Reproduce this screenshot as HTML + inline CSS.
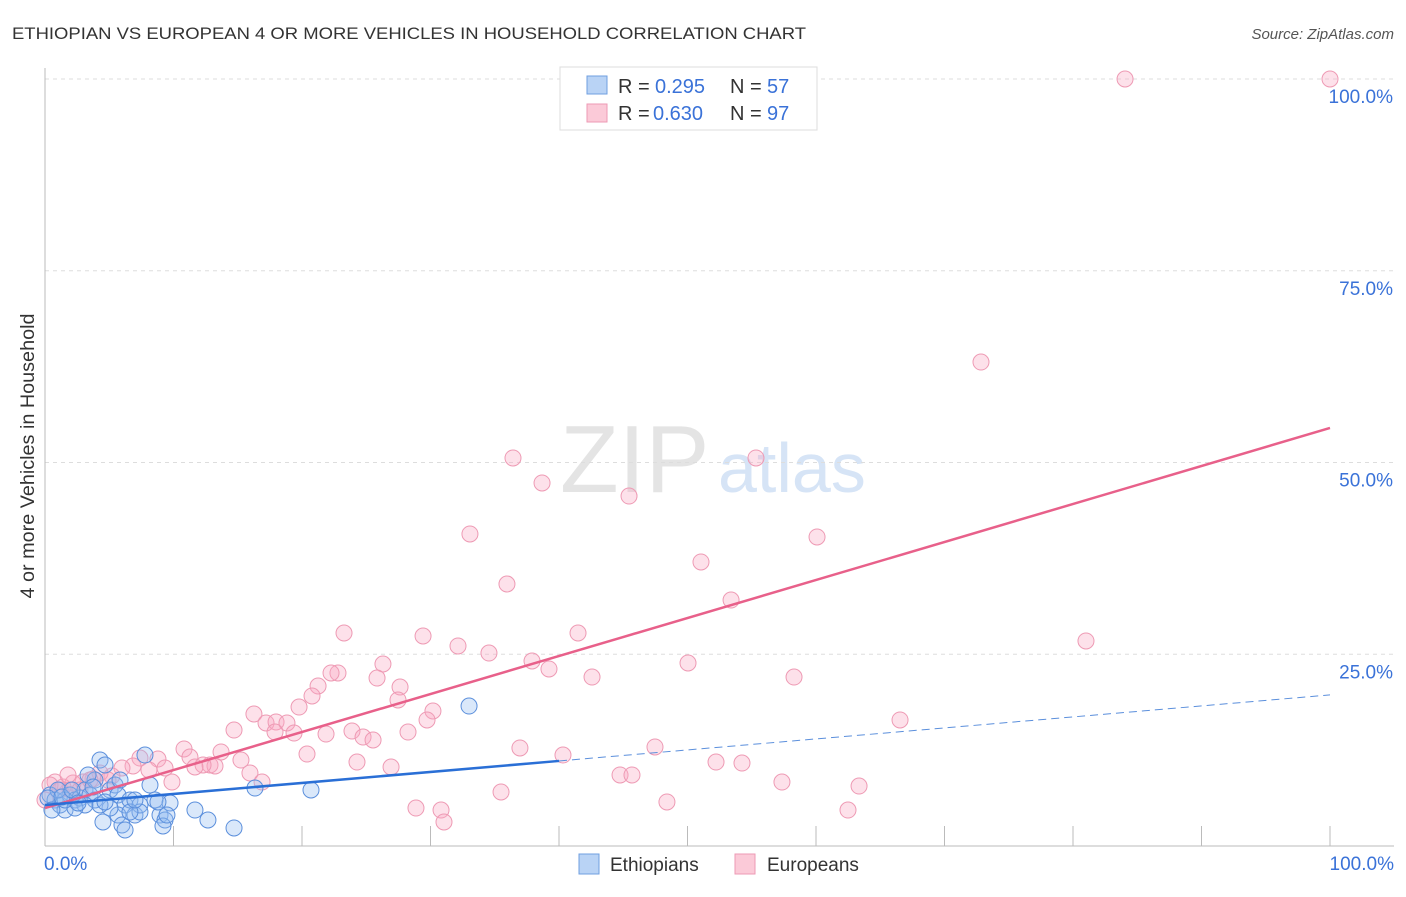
<!DOCTYPE html>
<html><head><meta charset="utf-8"><style>
body{margin:0;background:#fff;font-family:"Liberation Sans",sans-serif}
svg text{font-family:"Liberation Sans",sans-serif}
</style></head><body>
<svg width="1406" height="892" id="chart">
<text x="12" y="39" font-size="17" fill="#333" textLength="794" lengthAdjust="spacingAndGlyphs">ETHIOPIAN VS EUROPEAN 4 OR MORE VEHICLES IN HOUSEHOLD CORRELATION CHART</text>
<text x="1394" y="39" font-size="15" fill="#555" font-style="italic" text-anchor="end">Source: ZipAtlas.com</text>
<text x="560" y="492" font-size="96" fill="#e4e4e4" font-family="Liberation Serif">ZIP</text>
<text x="718" y="492" font-size="70" fill="#d6e4f6">atlas</text>
<text x="34" y="456" font-size="19" fill="#333" transform="rotate(-90 34 456)" text-anchor="middle" textLength="285" lengthAdjust="spacingAndGlyphs">4 or more Vehicles in Household</text>
<g id="grid"></g><g id="pts"></g><g id="lines"></g>
<g>
<rect x="560" y="67" width="257" height="63" fill="#fff" stroke="#ddd"/>
<rect x="587" y="76" width="20" height="18" fill="#b9d3f5" stroke="#6f9fe0"/>
<rect x="587" y="104" width="20" height="18" fill="#fbcad8" stroke="#ee9ab4"/>
<text x="618" y="93" font-size="20" fill="#333">R = <tspan fill="#3a72d8" x="655">0.295</tspan><tspan x="730">N = </tspan><tspan fill="#3a72d8" x="767">57</tspan></text>
<text x="618" y="120" font-size="20" fill="#333">R = <tspan fill="#3a72d8" x="653">0.630</tspan><tspan x="730">N = </tspan><tspan fill="#3a72d8" x="767">97</tspan></text>
</g>
<g>
<rect x="579" y="854" width="20" height="20" fill="#b9d3f5" stroke="#6f9fe0"/>
<text x="610" y="871" font-size="19" fill="#333">Ethiopians</text>
<rect x="735" y="854" width="20" height="20" fill="#fbcad8" stroke="#ee9ab4"/>
<text x="767" y="871" font-size="19" fill="#333">Europeans</text>
</g>
</svg>
<script>
const yTicks=[25,50,75,100];
const yTickLabels=["25.0%","50.0%","75.0%","100.0%"];
const xTickLabels=["0.0%","100.0%"];
const bluePx=[[50,795],[55,800],[60,805],[65,810],[70,795],[75,800],[80,798],[85,790],[90,795],[95,780],[100,760],[105,765],[110,790],[115,785],[118,795],[120,780],[125,805],[130,800],[135,815],[140,805],[145,755],[150,785],[155,800],[160,815],[165,820],[170,803],[103,822],[118,815],[122,825],[125,830],[140,812],[163,826],[195,810],[208,820],[234,828],[255,788],[311,790],[469,706],[110,808],[95,800],[85,805],[75,808],[65,800],[58,790],[48,798],[88,775],[93,787],[130,812],[135,800],[158,802],[167,815],[100,805],[105,802],[62,797],[72,790],[78,803],[52,810]];
const pinkPx=[[1125,79],[1330,79],[981,362],[513,458],[756,458],[542,483],[629,496],[470,534],[817,537],[701,562],[507,584],[731,600],[344,633],[578,633],[423,636],[458,646],[489,653],[532,661],[549,669],[383,664],[688,663],[338,673],[331,673],[592,677],[794,677],[377,678],[318,686],[400,687],[312,696],[398,700],[299,707],[433,711],[427,720],[254,714],[266,723],[276,722],[287,723],[275,732],[294,733],[234,730],[326,734],[352,731],[363,737],[373,740],[408,732],[900,720],[1086,641],[184,749],[221,752],[241,760],[190,757],[210,765],[215,766],[203,765],[520,748],[563,755],[655,747],[307,754],[140,758],[158,759],[133,766],[122,768],[112,776],[100,773],[93,779],[83,782],[73,783],[63,787],[55,782],[50,785],[60,790],[70,790],[80,790],[90,780],[165,768],[172,782],[195,767],[250,773],[262,782],[357,762],[391,767],[716,762],[742,763],[620,775],[632,775],[782,782],[859,786],[501,792],[667,802],[416,808],[441,810],[444,822],[848,810],[149,770],[108,780],[45,800],[68,775]];
const toX=p=>+((p-45)/12.85).toFixed(2), toY=p=>+((846-p)/7.67).toFixed(2);
const blueX=bluePx.map(p=>toX(p[0])), blueY=bluePx.map(p=>toY(p[1]));
const pinkX=pinkPx.map(p=>toX(p[0])), pinkY=pinkPx.map(p=>toY(p[1]));
const blueFit=[5.35,19.7], pinkFit=[4.95,54.5];
const X=v=>45+v*12.85, Y=v=>846-v*7.67;
const NS="http://www.w3.org/2000/svg";
function mk(t,a,parent){const e=document.createElementNS(NS,t);for(const k in a)e.setAttribute(k,a[k]);parent.appendChild(e);return e;}
const grid=document.getElementById('grid');
yTicks.forEach((t,i)=>{
 const l=mk('line',{x1:45,x2:1394,y1:Y(t),y2:Y(t),stroke:'#ddd','stroke-dasharray':'4,4'},grid);
 
 
 const tx=mk('text',{x:1393,y:Y(t)+24,'font-size':19,fill:'#3a72d8','text-anchor':'end'},grid);tx.textContent=yTickLabels[i];
 
 
});
const ax=mk('line',{x1:45,x2:45,y1:68,y2:846,stroke:'#bbb'},grid);


const bx=mk('line',{x1:45,x2:1394,y1:846,y2:846,stroke:'#bbb'},grid);


for(let i=1;i<=10;i++){const t=mk('line',{x1:X(i*10),x2:X(i*10),y1:826,y2:846,stroke:'#bbb'},grid);
 
 }
[[0,'start',44],[100,'end',1394]].forEach((d,i)=>{const t=mk('text',{x:d[2],y:870,'font-size':19,fill:'#3a72d8','text-anchor':d[1]},grid);t.textContent=xTickLabels[i];
 
 });
const pts=document.getElementById('pts');
pinkX.forEach((x,i)=>{const c=mk('circle',{cx:X(x),cy:Y(pinkY[i]),r:8,fill:'rgba(248,170,195,0.35)',stroke:'#ee9ab4','stroke-width':1},pts);
 
 });
blueX.forEach((x,i)=>{const c=mk('circle',{cx:X(x),cy:Y(blueY[i]),r:8,fill:'rgba(150,190,240,0.35)',stroke:'#5b8fdc','stroke-width':1},pts);
 
 });
const lines=document.getElementById('lines');
const fy=(f,x)=>f[0]+(f[1]-f[0])*x/100;
const pl=mk('line',{x1:X(0),y1:Y(fy(pinkFit,0)),x2:X(100),y2:Y(fy(pinkFit,100)),stroke:'#e8608a','stroke-width':2.5},lines);


const bl=mk('line',{x1:X(0),y1:Y(fy(blueFit,0)),x2:X(40),y2:Y(fy(blueFit,40)),stroke:'#2a6fd6','stroke-width':2.5},lines);


const bd=mk('line',{x1:X(40),y1:Y(fy(blueFit,40)),x2:X(100),y2:Y(fy(blueFit,100)),stroke:'#5b8fdc','stroke-width':1,'stroke-dasharray':'8,5'},lines);


</script>
</body></html>
